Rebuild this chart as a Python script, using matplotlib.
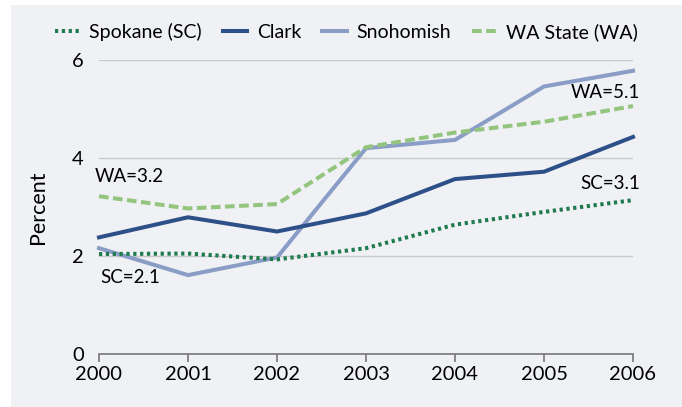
import matplotlib
matplotlib.use("Agg")
import matplotlib.pyplot as plt
from matplotlib.patches import Rectangle

years = [2000, 2001, 2002, 2003, 2004, 2005, 2006]
spokane = [2.04, 2.05, 1.93, 2.16, 2.64, 2.90, 3.14]
clark = [2.38, 2.79, 2.50, 2.87, 3.57, 3.72, 4.43]
snohomish = [2.16, 1.61, 1.97, 4.20, 4.37, 5.46, 5.78]
wa_state = [3.22, 2.97, 3.06, 4.22, 4.52, 4.74, 5.06]

series_names = ["Spokane (SC)", "Clark", "Snohomish", "WA State (WA)"]
yticks = [0, 2, 4, 6]

plt.rcParams["font.family"] = ["Lato", "DejaVu Sans"]

BG = "#eff1f5"

fig = plt.figure(figsize=(6.82, 4.07), dpi=100)
fig.patch.set_facecolor("white")
fig.patches.append(Rectangle((11 / 682, 0), 1 - 11 / 682, 1 - 5 / 407,
                             transform=fig.transFigure, facecolor=BG,
                             edgecolor="none", zorder=-10))

ax = fig.add_axes([99 / 682, 53 / 407, 534 / 682, 294 / 407])
ax.set_facecolor("none")

lw = 2.9
ax.plot(years, spokane, color="#1f7a4d", lw=lw, linestyle=(0, (0.8, 0.9)),
        label=series_names[0], clip_on=False, zorder=3)
ax.plot(years, clark, color="#2e5089", lw=lw, label=series_names[1],
        clip_on=False, zorder=3)
ax.plot(years, snohomish, color="#8a9dc6", lw=lw, label=series_names[2],
        clip_on=False, zorder=2)
ax.plot(years, wa_state, color="#93c57e", lw=lw, linestyle=(0, (2.4, 1.1)),
        label=series_names[3], clip_on=False, zorder=2)

ax.set_xlim(2000, 2006)
ax.set_ylim(0, 6)
ax.set_xticks(years)
ax.set_yticks(yticks)
ax.tick_params(axis="x", direction="out", length=6, width=1.2, color="#777777",
               labelsize=14.5, pad=3)
ax.tick_params(axis="y", length=0, labelsize=14.5, pad=11)
ax.grid(axis="y", color="#c9c9c9", lw=1.0)
ax.set_axisbelow(True)
for side in ["top", "right", "left"]:
    ax.spines[side].set_visible(False)
ax.spines["bottom"].set_color("#777777")
ax.spines["bottom"].set_linewidth(1.2)
ax.spines["bottom"].set_zorder(1)

ax.set_ylabel("Percent", fontsize=15.5, labelpad=17)

ax.annotate("WA=3.2", xy=(2000, wa_state[0]), xytext=(-3, 14),
            textcoords="offset points", fontsize=13.5, ha="left", va="center")
ax.annotate("SC=2.1", xy=(2000, spokane[0]), xytext=(1, -17),
            textcoords="offset points", fontsize=13.5, ha="left", va="center")
ax.annotate("WA=5.1", xy=(2006, wa_state[-1]), xytext=(5, 10),
            textcoords="offset points", fontsize=13.5, ha="right", va="center")
ax.annotate("SC=3.1", xy=(2006, spokane[-1]), xytext=(5, 12),
            textcoords="offset points", fontsize=13.5, ha="right", va="center")

fig.legend(loc="center", bbox_to_anchor=(0.508, 1 - 32 / 407), ncol=4,
           frameon=False, fontsize=14, handlelength=1.25, handletextpad=0.5,
           columnspacing=1.1)

fig.savefig("out.png", dpi=100, facecolor=fig.get_facecolor())
